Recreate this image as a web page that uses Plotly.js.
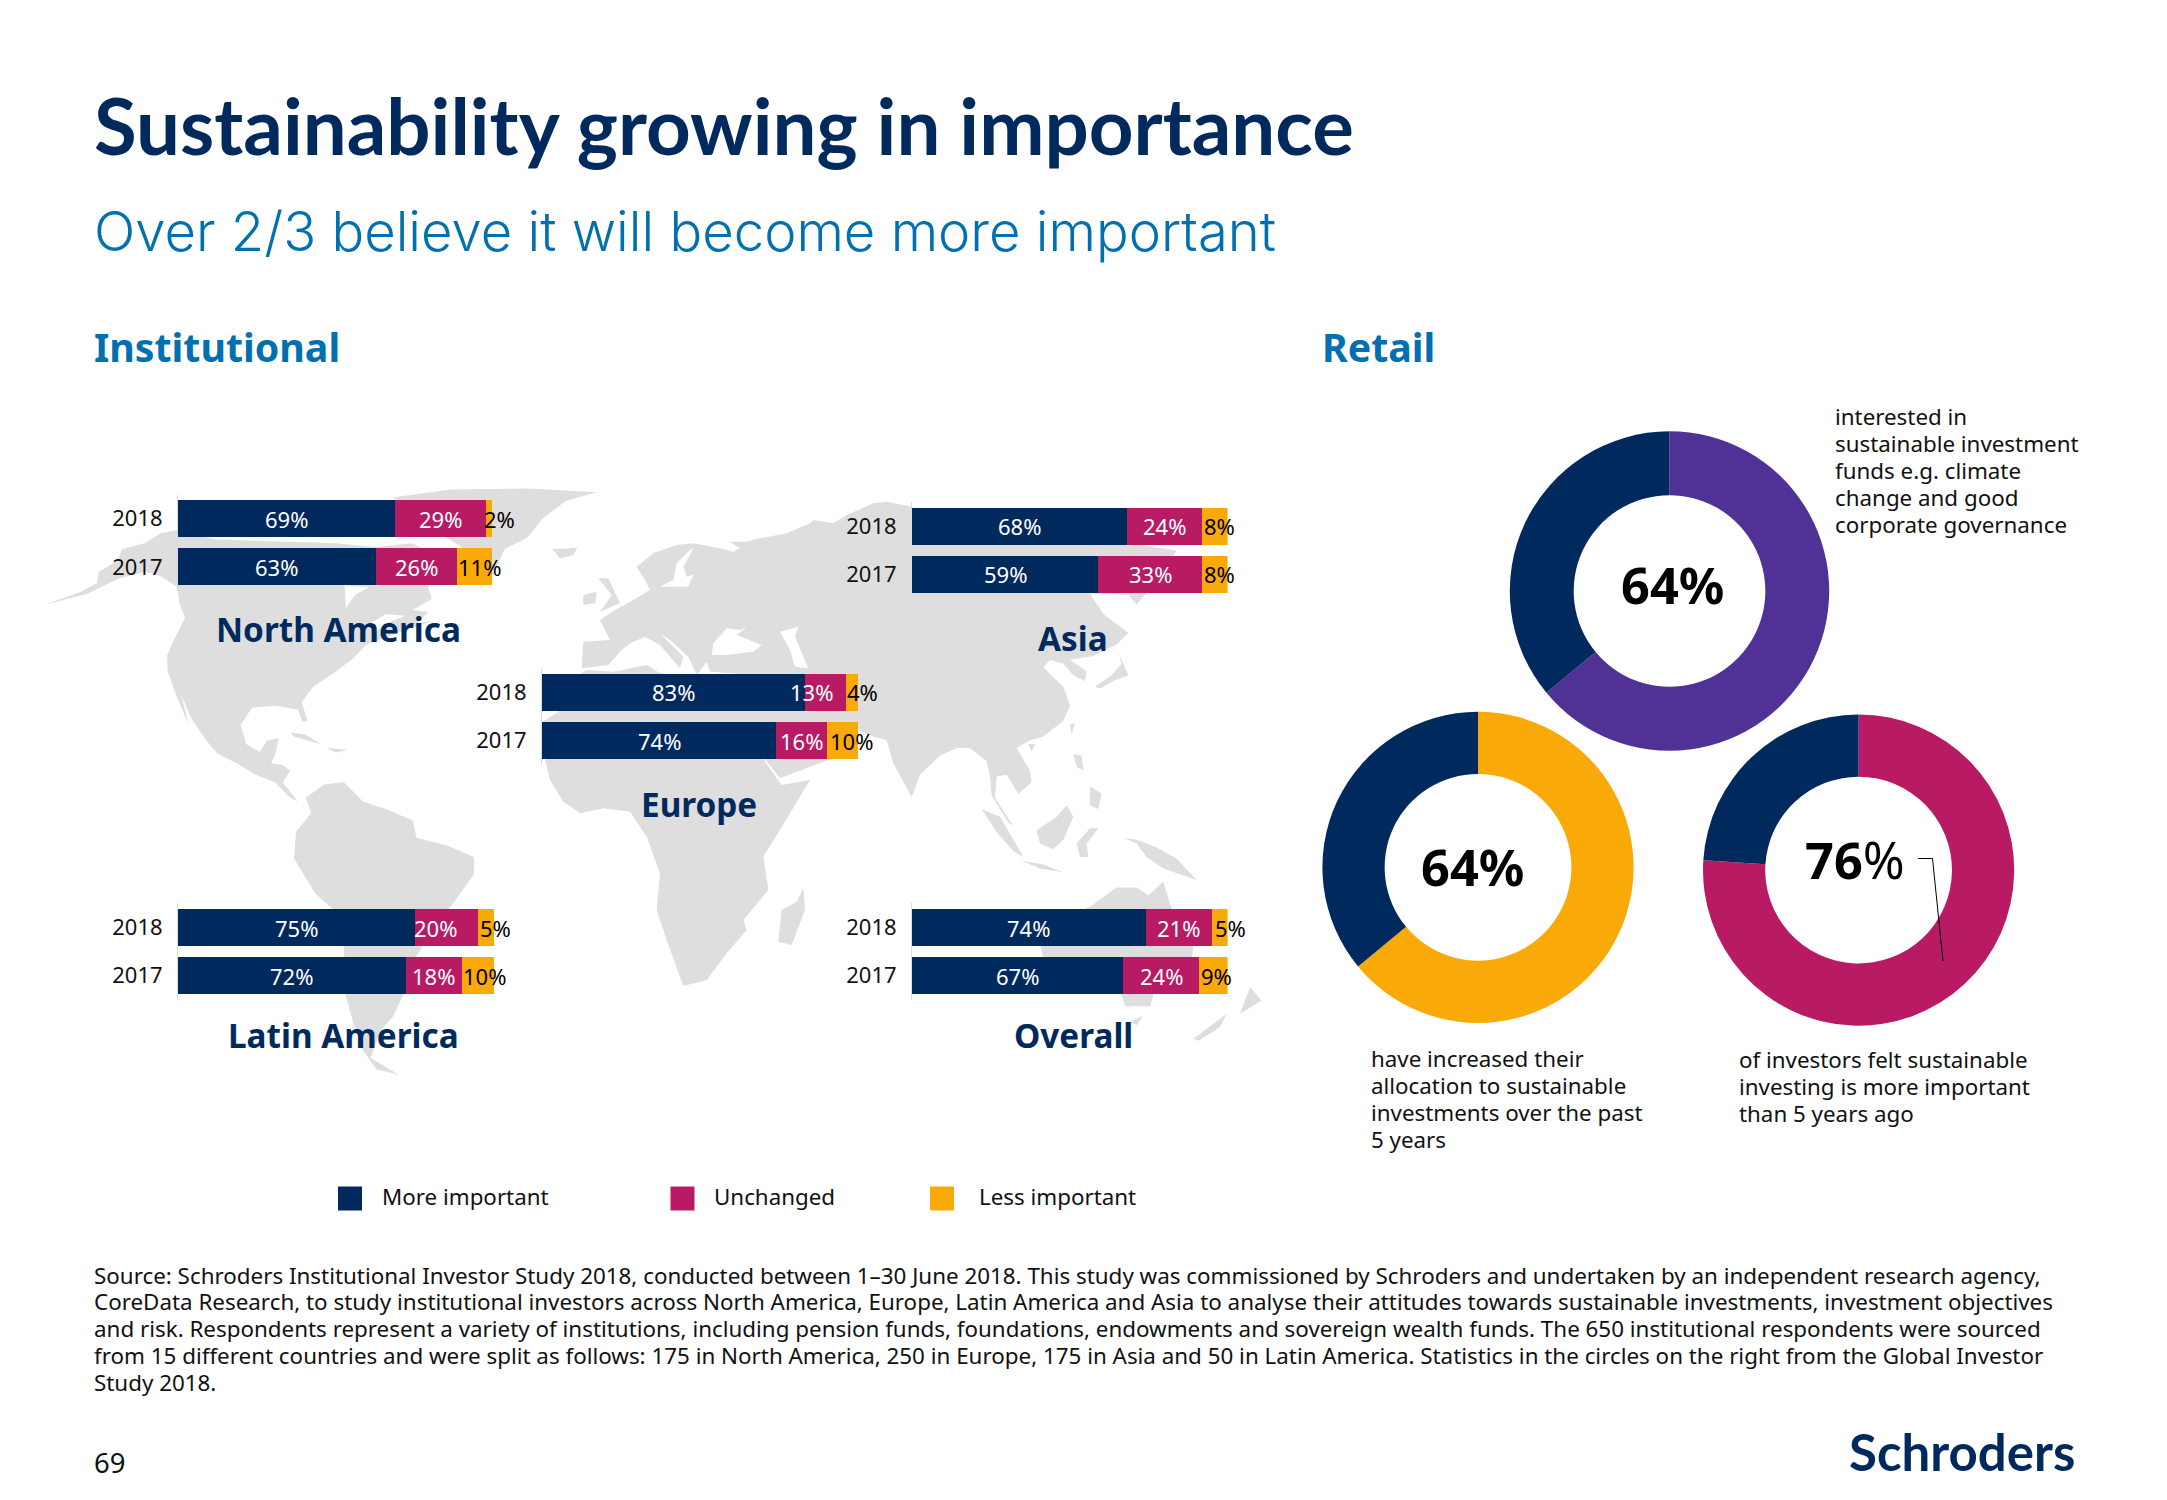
<!DOCTYPE html>
<html><head><meta charset="utf-8">
<script src="https://cdn.plot.ly/plotly-3.0.0.min.js"></script>
<style>html,body{margin:0;padding:0;background:#fff}#chart{width:2167px;height:1500px}</style>
</head><body><div id="chart"></div>
<script>
const W=2167,H=1500;
const NAVY='#002a5e',MAG='#b81a64',ORG='#f9a908',PUR='#503296',BLUE='#0070b0',GREY='#dedede',FONT='"Noto Sans"';

// ---- data ----
const years=['2018','2017'];
const seriesNames=['More important','Unchanged','Less important'];
const northAmerica=[[69,63],[29,26],[2,11]];
const europe=[[83,74],[13,16],[4,10]];
const asia=[[68,59],[24,33],[8,8]];
const latinAmerica=[[75,72],[20,18],[5,10]];
const overall=[[74,67],[21,24],[5,9]];
const retailTop=[64,36];
const retailLeft=[64,36];
const retailRight=[76,24];

// horizontal nudges of the value labels, [series][year], in pixels
const nudgeNA=[[0,0],[0,0],[11,5]];
const nudgeEU=[[0,0],[-14,0],[11,9]];
const nudgeAS=[[0,0],[0,0],[5,5]];
const nudgeLA=[[0,0],[-11,0],[9,6]];
const nudgeOV=[[0,0],[0,0],[11,3]];

// ---- placement of the five small bar panels (page pixels) ----
const panels=[
 {name:'North America',vals:northAmerica,nudge:nudgeNA,l:178,r:492,t:494.6,b:590.9,lx:338,ly:628.5},
 {name:'Asia',vals:asia,nudge:nudgeAS,l:912,r:1227.6,t:502,b:598.4,lx:1073,ly:637.5},
 {name:'Europe',vals:europe,nudge:nudgeEU,l:542,r:858.3,t:668,b:765,lx:699,ly:803.5},
 {name:'Latin America',vals:latinAmerica,nudge:nudgeLA,l:178,r:494,t:903.4,b:999.9,lx:343,ly:1034.5},
 {name:'Overall',vals:overall,nudge:nudgeOV,l:912,r:1227.6,t:903.4,b:999.9,lx:1073,ly:1034.5}
];

// ---- decorative world map background, traced in zoom-crop coordinates ----
const cA=p=>p.map(([x,y])=>[30+x/2.613,480+y/2.613]);
const cB=p=>p.map(([x,y])=>[520+x/3,480+y/3]);
const cC=p=>p.map(([x,y])=>[800+x/3,480+y/2.613]);
const land=[
 cA([[40,325],[130,293],[175,270],[180,240],[230,210],[240,180],[300,165],[340,140],[386,130],[480,155],[640,160],[800,165],[900,175],[1000,165],[1060,200],[1040,280],[1050,310],[1000,340],[1040,345],[1010,375],[1055,368],[960,400],[880,430],[840,470],[800,500],[740,540],[710,580],[725,630],[712,632],[700,600],[640,590],[580,595],[550,640],[565,690],[600,710],[620,680],[650,675],[640,720],[630,740],[660,745],[680,760],[660,790],[700,840],[680,830],[640,790],[590,770],[540,740],[490,715],[460,680],[420,620],[395,560],[415,640],[385,570],[360,500],[358,460],[375,420],[405,360],[390,320],[385,280],[340,250],[300,240],[230,258],[150,297]]),
 cA([[950,45],[1100,25],[1300,22],[1480,32],[1400,55],[1340,100],[1300,150],[1240,180],[1210,250],[1120,170],[1000,100]]),
 cA([[1365,180],[1430,178],[1420,195],[1385,205]]),
 cA([[680,660],[720,665],[760,690],[740,685],[690,670]]),
 cA([[775,700],[830,705],[800,712]]),
 cA([[720,830],[770,795],[820,790],[870,840],[930,860],[1000,890],[1010,935],[1090,955],[1160,985],[1160,1030],[1110,1100],[1050,1180],[1000,1260],[975,1345],[950,1400],[915,1440],[890,1510],[965,1555],[905,1540],[870,1490],[845,1420],[825,1345],[820,1218],[790,1120],[745,1080],[690,990],[695,920],[735,870]]),
 [...cB([[375,300],[350,260],[400,220],[470,195],[520,190],[600,205],[640,215],[660,205],[630,185],[680,185],[720,175],[800,160],[870,130],[880,120],[940,130],[980,105],[1060,70],[1100,65],[1175,80]]),
  ...cC([[335,72],[600,80],[900,150],[1130,185],[1035,300],[1010,325],[985,300],[870,297],[910,350],[985,400],[950,430],[880,460],[810,470],[860,500],[855,525],[820,510],[790,480],[750,470],[730,490],[790,540],[810,590],[790,630],[730,670],[690,680],[650,700],[690,760],[695,790],[655,820],[620,770],[590,775],[585,830],[640,905],[625,895],[575,825],[570,775],[560,735],[510,700],[470,700],[420,720],[360,770],[335,828]]),
  ...cB([[1120,850],[1100,780],[1060,770],[1015,750],[950,830],[870,860],[780,895],[735,838],[700,760],[690,727],[670,695],[680,600],[660,582],[570,575],[560,545],[530,585],[505,530],[450,480],[420,460],[490,530],[480,565],[420,495],[375,470],[330,490],[300,515],[265,555],[185,565],[190,485],[270,480],[240,420],[285,390],[340,360],[390,330]])],
 cB([[235,295],[265,295],[300,370],[240,395],[275,345]]),
 cB([[190,345],[230,335],[225,370],[190,375]]),
 cB([[200,570],[280,575],[380,555],[420,580],[660,600],[670,695],[690,727],[735,845],[785,915],[870,900],[810,1000],[730,1130],[745,1230],[670,1320],[680,1350],[620,1420],[560,1500],[490,1518],[440,1380],[410,1290],[420,1180],[380,1070],[330,995],[250,985],[180,1000],[130,965],[90,900],[75,838],[66,727],[120,692],[150,600]]),
 cB([[850,1225],[855,1290],[815,1395],[775,1385],[785,1290],[830,1265]]),
 cC([[955,450],[985,510],[940,525],[900,545],[885,540],[935,510],[965,480]]),
 cC([[810,640],[825,635],[815,665]]),
 cC([[685,690],[705,690],[695,710]]),
 cC([[820,715],[845,720],[850,760],[830,750]]),
 cC([[870,800],[905,820],[895,860],[870,850]]),
 cC([[710,915],[770,880],[800,850],[820,880],[790,940],[760,965],[720,950]]),
 cC([[545,860],[600,880],[670,985],[640,970],[590,920]]),
 cC([[665,995],[730,1005],[790,1025],[720,1015]]),
 cC([[830,950],[870,910],[895,910],[860,950],[865,985],[840,985]]),
 cC([[970,935],[1010,940],[1070,960],[1130,990],[1190,1045],[1140,1030],[1090,1015],[1040,985],[1010,950]]),
 cC([[870,1115],[950,1065],[1010,1065],[1045,1085],[1090,1050],[1115,1120],[1180,1220],[1175,1250],[1060,1345],[1050,1375],[975,1375],[965,1345],[850,1300],[730,1250],[720,1210],[790,1140]]),
 cC([[990,1415],[1030,1400],[1010,1425]]),
 cC([[1180,1460],[1280,1395],[1260,1430],[1195,1465]]),
 cC([[1320,1395],[1350,1325],[1385,1360],[1340,1385]])
];
const water=[
 cA([[822,275],[825,335],[850,300],[885,280]]),
 cA([[880,380],[930,350],[980,355],[930,375],[900,400]]),
 cB([[460,300],[470,250],[510,210],[520,205],[490,260],[500,290],[570,270],[520,285],[505,320],[420,320]]),
 cB([[580,490],[620,445],[660,450],[680,440],[650,465],[725,495],[700,515],[620,525],[575,525]]),
 cB([[780,455],[835,440],[825,470],[865,565],[825,560],[810,510]])
];
function polyTrace(polys,color){
  const x=[],y=[];
  polys.forEach(p=>{p.forEach(q=>{x.push(q[0]);y.push(q[1]);});x.push(p[0][0],null);y.push(p[0][1],null);});
  return {type:'scatter',x,y,xaxis:'x',yaxis:'y',mode:'lines',fill:'toself',fillcolor:color,line:{width:0,color},hoverinfo:'skip',showlegend:false};
}

// ---- traces ----
const data=[polyTrace(land,GREY),polyTrace(water,'#ffffff')];
const layout={width:W,height:H,margin:{l:0,r:0,t:0,b:0},paper_bgcolor:'#fff',plot_bgcolor:'rgba(0,0,0,0)',
  showlegend:false,barmode:'stack',bargap:0.232,hovermode:false,
  xaxis:{domain:[0,1],range:[0,W],visible:false,fixedrange:true},
  yaxis:{domain:[0,1],range:[H,0],visible:false,fixedrange:true},
  annotations:[],shapes:[]};
const colors=[NAVY,MAG,ORG];
const txtCol=['#ffffff','#ffffff','#000000'];
function note(text,x,y,size,color,opt){
  const centered=opt&&opt.a&&opt.a.xanchor==='center';
  layout.annotations.push(Object.assign({text,x:centered?x:x-2.5,y,xref:'x',yref:'y',showarrow:false,xanchor:'left',yanchor:'middle',
    align:'left',font:Object.assign({family:FONT,size,color},(opt&&opt.font)||{})},(opt&&opt.a)||{}));
}
panels.forEach((p,i)=>{
  const n=i+2,xa='x'+n,ya='y'+n;
  layout['xaxis'+n]={domain:[p.l/W,p.r/W],range:[0,100],visible:false,fixedrange:true,anchor:ya};
  layout['yaxis'+n]={domain:[1-p.b/H,1-p.t/H],type:'category',categoryorder:'array',categoryarray:years,autorange:'reversed',
    anchor:xa,fixedrange:true,showline:true,linecolor:'#dcdcdc',linewidth:1,ticks:'',showgrid:false,zeroline:false,
    ticklabelstandoff:10,tickfont:{family:FONT,size:22,color:'#111'}};
  seriesNames.forEach((s,k)=>{
    data.push({type:'bar',orientation:'h',name:s,y:years,x:p.vals[k],xaxis:xa,yaxis:ya,marker:{color:colors[k],line:{width:0}},hoverinfo:'skip'});
    years.forEach((yr,j)=>{
      let base=0;for(let m=0;m<k;m++)base+=p.vals[m][j];
      layout.annotations.push({text:p.vals[k][j]+'%',x:base+p.vals[k][j]/2,y:j,xref:xa,yref:ya,showarrow:false,
        xshift:p.nudge[k][j],yshift:0,xanchor:'center',yanchor:'middle',font:{family:FONT,size:22,color:txtCol[k]}});
    });
  });
  note(p.name,p.lx,p.ly,33.3,NAVY,{font:{weight:700},a:{xanchor:'center'}});
});

// donuts
function donut(vals,col,cx,cy,r){
  data.push({type:'pie',values:vals,marker:{colors:[col,NAVY],line:{width:0}},hole:0.6,sort:false,direction:'clockwise',rotation:0,
    textinfo:'none',hoverinfo:'skip',showlegend:false,
    domain:{x:[(cx-r)/W,(cx+r)/W],y:[1-(cy+r)/H,1-(cy-r)/H]}});
}
donut(retailTop,PUR,1669.5,591,159.7);
donut(retailLeft,ORG,1478,867.3,155.6);
donut(retailRight,MAG,1858.6,870.1,155.6);
note('64%',1672,584.5,50.5,'#000',{font:{weight:700},a:{xanchor:'center'}});
note('64%',1472,866,50.5,'#000',{font:{weight:700},a:{xanchor:'center'}});
note('<b>76</b>%',1855,859,50.5,'#000',{a:{xanchor:'center'}});
layout.shapes.push({type:'path',xref:'x',yref:'y',path:'M1918,858.5 L1932.5,858.5 L1943,961',line:{color:'#000',width:1},layer:'above'});

// text blocks
['interested in','sustainable investment','funds e.g. climate','change and good','corporate governance'].forEach((t,i)=>note(t,1835,416+i*27,22.35,'#111'));
['have increased their','allocation to sustainable','investments over the past','5 years'].forEach((t,i)=>note(t,1371,1058.5+i*27,22.35,'#111'));
['of investors felt sustainable','investing is more important','than 5 years ago'].forEach((t,i)=>note(t,1739,1059+i*27,22.35,'#111'));

// legend
const legendX=[338,670.5,930],legendT=[382.5,714.5,979];
seriesNames.forEach((s,i)=>{
  layout.shapes.push({type:'rect',xref:'x',yref:'y',x0:legendX[i],x1:legendX[i]+24,y0:1186.5,y1:1210.5,fillcolor:colors[i],line:{width:0}});
  note(s,legendT[i],1196.5,22.35,'#111');
});

// headings
note('Sustainability growing in importance',94,125,78,NAVY,{font:{family:'Lato',weight:700}});
note('Over 2/3 believe it will become more important',94,231,54.4,BLUE,{font:{family:'Inter',weight:300}});
note('Institutional',94,346.5,39.3,BLUE,{font:{weight:700}});
note('Retail',1322,346.5,39.3,BLUE,{font:{weight:700}});

// source
['Source: Schroders Institutional Investor Study 2018, conducted between 1–30 June 2018. This study was commissioned by Schroders and undertaken by an independent research agency,',
 'CoreData Research, to study institutional investors across North America, Europe, Latin America and Asia to analyse their attitudes towards sustainable investments, investment objectives',
 'and risk. Respondents represent a variety of institutions, including pension funds, foundations, endowments and sovereign wealth funds. The 650 institutional respondents were sourced',
 'from 15 different countries and were split as follows: 175 in North America, 250 in Europe, 175 in Asia and 50 in Latin America. Statistics in the circles on the right from the Global Investor',
 'Study 2018.'].forEach((t,i)=>note(t,94,1275+i*26.8,22.38,'#111'));
note('69',94,1462,27.5,'#111');
note('Schroders',1849,1451,51,NAVY,{font:{family:'Lato',weight:700}});

Plotly.newPlot('chart',data,layout,{staticPlot:true,displayModeBar:false});
</script></body></html>
